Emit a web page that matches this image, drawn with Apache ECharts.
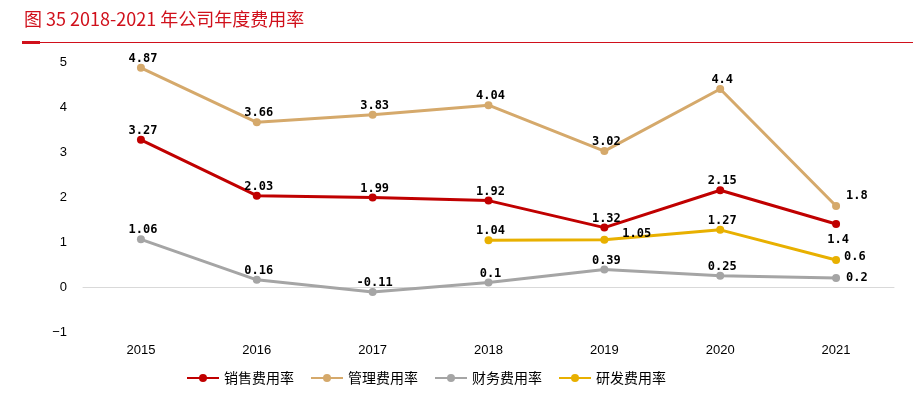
<!DOCTYPE html>
<html>
<head>
<meta charset="utf-8">
<script src="https://cdn.jsdelivr.net/npm/echarts@6/dist/echarts.min.js"></script>
<style>
  html, body { margin: 0; padding: 0; background: #fff; }
  #chart { width: 913px; height: 396px; }
</style>
</head>
<body>
<div id="chart"></div>
<script>
const years = ['2015', '2016', '2017', '2018', '2019', '2020', '2021'];
const sales = [3.27, 2.03, 1.99, 1.92, 1.32, 2.15, 1.4];
const admin = [4.87, 3.66, 3.83, 4.04, 3.02, 4.4, 1.8];
const finance = [1.06, 0.16, -0.11, 0.1, 0.39, 0.25, 0.2];
const rnd = [null, null, null, 1.04, 1.05, 1.27, 0.6];

const labelFont = {
  show: true,
  fontFamily: 'DejaVu Sans Mono',
  fontWeight: 'bold',
  fontSize: 12,
  color: '#000',
  position: 'top',
  distance: -1,
  offset: [2, 0]
};

// label placement tweaks (index -> position)
function withLabels(values, tweaks) {
  return values.map((v, i) => {
    if (v === null) return null;
    const t = tweaks[i];
    return t ? { value: v, label: t } : v;
  });
}

function line(name, color, data) {
  return {
    name: name,
    type: 'line',
    data: data,
    symbol: 'circle',
    symbolSize: 8,
    lineStyle: { width: 3, color: color },
    itemStyle: { color: color },
    label: labelFont,
    z: 3
  };
}

const chart = echarts.init(document.getElementById('chart'));
chart.setOption({
  animation: false,
  title: {
    text: '图 35 2018-2021 年公司年度费用率',
    left: 19,
    top: 5,
    textStyle: { color: '#D0101B', fontSize: 18, fontWeight: 'normal', fontFamily: 'Noto Sans CJK SC' }
  },
  graphic: [
    { type: 'rect', shape: { x: 22, y: 42, width: 891, height: 1 }, style: { fill: '#D0101B' } },
    { type: 'rect', shape: { x: 22, y: 41, width: 18, height: 3 }, style: { fill: '#D0101B' } }
  ],
  legend: {
    left: 181,
    top: 366,
    itemWidth: 32,
    itemHeight: 10,
    itemGap: 16,
    textStyle: { fontFamily: 'Noto Sans CJK SC', fontSize: 14, color: '#000' }
  },
  grid: { left: 83, right: 19, top: 62, bottom: 64 },
  xAxis: [
    {
      type: 'category',
      data: years,
      axisLine: { onZero: true, lineStyle: { color: '#D9D9D9', width: 1 } },
      axisTick: { show: false },
      axisLabel: { show: false }
    },
    {
      // year labels along the bottom edge of the plot
      type: 'category',
      data: years,
      position: 'bottom',
      axisLine: { show: false, onZero: false },
      axisTick: { show: false },
      axisLabel: { margin: 12, fontFamily: 'Liberation Sans', fontSize: 13, color: '#000' }
    }
  ],
  yAxis: {
    type: 'value',
    min: -1,
    max: 5,
    interval: 1,
    splitLine: { show: false },
    axisLine: { show: false },
    axisTick: { show: false },
    axisLabel: {
      margin: 16,
      fontFamily: 'Liberation Sans',
      fontSize: 13,
      color: '#000',
      formatter: v => (v < 0 ? '\u2212' + Math.abs(v) : String(v))
    }
  },
  series: [
    line('销售费用率', '#C00000', withLabels(sales, {
      6: { position: 'bottom', distance: 6 }
    })),
    line('管理费用率', '#D5A96B', withLabels(admin, {
      6: { position: 'right', distance: 6, offset: [0, -10] }
    })),
    line('财务费用率', '#A5A5A5', withLabels(finance, {
      6: { position: 'right', distance: 4 }
    })),
    line('研发费用率', '#E8B000', withLabels(rnd, {
      4: { position: 'right', distance: 14, offset: [0, -6] },
      6: { position: 'right', distance: 4, offset: [0, -3] }
    }))
  ]
});
</script>
</body>
</html>
